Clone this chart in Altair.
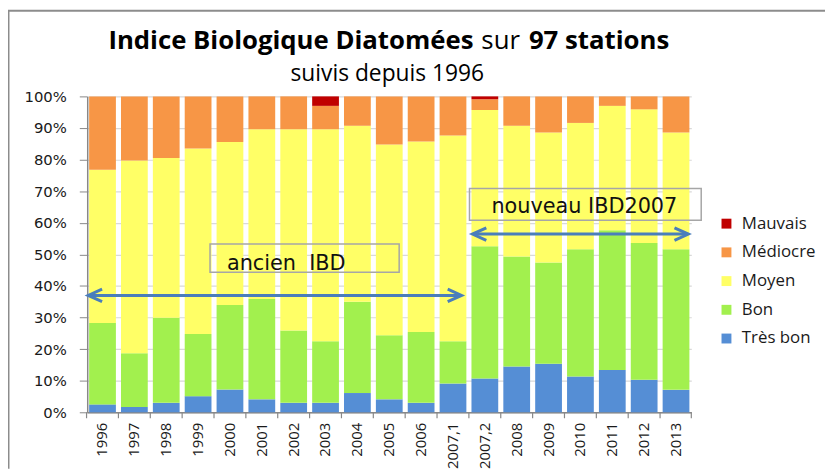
import altair as alt
import pandas as pd

years = ["1996", "1997", "1998", "1999", "2000", "2001", "2002", "2003", "2004",
         "2005", "2006", "2007,1", "2007,2", "2008", "2009", "2010", "2011", "2012", "2013"]
tres_bon = [2.5, 1.7, 3.0, 5.1, 7.2, 4.1, 3.0, 3.0, 6.1, 4.1, 3.0, 9.1, 10.7, 14.5, 15.4, 11.3, 13.4, 10.3, 7.1]
bon = [25.8, 17.0, 26.9, 19.7, 26.8, 31.8, 22.9, 19.5, 28.9, 20.3, 22.4, 13.4, 41.9, 34.8, 32.0, 40.3, 44.2, 43.3, 44.5]
moyen = [48.5, 61.0, 50.6, 58.7, 51.6, 53.7, 63.7, 67.1, 55.7, 60.4, 60.3, 65.1, 43.1, 41.4, 41.2, 40.0, 39.4, 42.3, 37.0]
mediocre = [23.2, 20.3, 19.5, 16.5, 14.4, 10.4, 10.4, 7.4, 9.3, 15.2, 14.3, 12.4, 3.4, 9.3, 11.4, 8.4, 3.0, 4.1, 11.4]
mauvais = [0, 0, 0, 0, 0, 0, 0, 3.0, 0, 0, 0, 0, 0.9, 0, 0, 0, 0, 0, 0]

categories = ["Mauvais", "Médiocre", "Moyen", "Bon", "Très bon"]
colors = ["#C00000", "#F79646", "#FFFF66", "#A2F04E", "#558ED5"]
y_ticks = [0, 0.1, 0.2, 0.3, 0.4, 0.5, 0.6, 0.7, 0.8, 0.9, 1.0]

series = {"Très bon": tres_bon, "Bon": bon, "Moyen": moyen, "Médiocre": mediocre, "Mauvais": mauvais}
rank = {"Très bon": 0, "Bon": 1, "Moyen": 2, "Médiocre": 3, "Mauvais": 4}
rows = []
for cat, vals in series.items():
    for yr, v in zip(years, vals):
        rows.append({"year": yr, "cat": cat, "value": v / 100.0, "rank": rank[cat]})
df = pd.DataFrame(rows)

W, H = 610, 319
AX = "#888888"
ARROW = "#4A7EBB"
xscale = alt.Scale(domain=years, paddingInner=0.16, paddingOuter=0.06)

bars = alt.Chart(df).mark_bar().encode(
    x=alt.X("year:N", scale=xscale, title=None,
            axis=alt.Axis(labelAngle=270, labelFont="Open Sans", labelFontSize=15,
                          labelColor="#1a1a1a", ticks=False, labelPadding=10,
                          domainColor=AX, domainWidth=1.5)),
    y=alt.Y("value:Q", stack="zero", scale=alt.Scale(domain=[0, 1], nice=False), title=None,
            axis=alt.Axis(values=y_ticks, format=".0%", labelFont="DejaVu Sans", labelFontSize=15,
                          labelColor="#1a1a1a", tickSize=8, tickColor=AX, domainColor=AX,
                          domainWidth=1.5, grid=True, gridColor="#d9d9d9", gridWidth=1.2,
                          labelPadding=13)),
    color=alt.Color("cat:N", scale=alt.Scale(domain=categories, range=colors),
                    legend=alt.Legend(title=None, orient="none", legendX=637, legendY=120,
                                      symbolType="square", symbolSize=100, symbolStrokeWidth=0,
                                      labelFont="Open Sans", labelFontSize=17, labelColor="#1a1a1a",
                                      rowPadding=11, labelOffset=7)),
    order=alt.Order("rank:Q"),
)

ticks = alt.Chart(df[df["cat"] == "Bon"]).mark_rule(xOffset=-2.6, color=AX, strokeWidth=1.2).encode(
    x=alt.X("year:N", scale=xscale, bandPosition=0),
    y=alt.value(H), y2=alt.value(H + 6),
)

one = pd.DataFrame({"k": [0]})
base = alt.Chart(one)

end_tick = base.mark_rule(color=AX, strokeWidth=1.2).encode(x=alt.value(W), y=alt.value(H), y2=alt.value(H + 6))

frame_top = base.mark_rule(color="#8c8c8c", strokeWidth=2).encode(
    x=alt.value(-80), x2=alt.value(746), y=alt.value(-86.5))
frame_left = base.mark_rule(color="#8c8c8c", strokeWidth=2).encode(
    x=alt.value(-79.5), y=alt.value(-87), y2=alt.value(376))

box1 = base.mark_rect(fillOpacity=0, stroke="#a6a6a6", strokeWidth=1.5).encode(
    x=alt.value(124), x2=alt.value(315), y=alt.value(149), y2=alt.value(177.5))
box2 = base.mark_rect(fillOpacity=0, stroke="#a6a6a6", strokeWidth=1.5).encode(
    x=alt.value(386), x2=alt.value(620), y=alt.value(93), y2=alt.value(125))

txt1 = base.mark_text(text="ancien\u00a0\u00a0IBD", font="DejaVu Sans", fontSize=21,
                      align="center", baseline="alphabetic", color="#111111").encode(
    x=alt.value(201), y=alt.value(175))
txt2 = base.mark_text(text="nouveau IBD2007", font="DejaVu Sans", fontSize=21,
                      align="center", baseline="alphabetic", color="#111111").encode(
    x=alt.value(502), y=alt.value(118))

arrow1 = base.mark_rule(color=ARROW, strokeWidth=3).encode(
    x=alt.value(2), x2=alt.value(376), y=alt.value(201))
arrow2 = base.mark_rule(color=ARROW, strokeWidth=3).encode(
    x=alt.value(390), x2=alt.value(606), y=alt.value(139))
LEFT = "M1,-0.9L-1,0L1,0.9"
RIGHT = "M-1,-0.9L1,0L-1,0.9"
head_kw = dict(filled=False, stroke=ARROW, strokeWidth=3, size=196, opacity=1)
h1 = base.mark_point(shape=LEFT, **head_kw).encode(x=alt.value(8), y=alt.value(201))
h2 = base.mark_point(shape=RIGHT, **head_kw).encode(x=alt.value(371), y=alt.value(201))
h3 = base.mark_point(shape=LEFT, **head_kw).encode(x=alt.value(396), y=alt.value(139))
h4 = base.mark_point(shape=RIGHT, **head_kw).encode(x=alt.value(600), y=alt.value(139))

t1 = base.mark_text(text="Indice Biologique Diatomées", font="Open Sans", fontSize=26, fontWeight="bold",
                    align="right", baseline="alphabetic", color="#000000").encode(
    x=alt.value(390), y=alt.value(-48))
t2 = base.mark_text(text="sur", font="Open Sans", fontSize=26,
                    align="left", baseline="alphabetic", color="#000000").encode(
    x=alt.value(398), y=alt.value(-48))
t3 = base.mark_text(text="97 stations", font="Open Sans", fontSize=26, fontWeight="bold",
                    align="left", baseline="alphabetic", color="#000000").encode(
    x=alt.value(446), y=alt.value(-48))
t4 = base.mark_text(text="suivis depuis 1996", font="Open Sans", fontSize=23,
                    align="center", baseline="alphabetic", color="#000000").encode(
    x=alt.value(303), y=alt.value(-16))

chart = alt.layer(
    bars, ticks, end_tick, frame_top, frame_left, box1, box2, txt1, txt2,
    arrow1, arrow2, h1, h2, h3, h4, t1, t2, t3, t4
).properties(
    width=W, height=H,
    autosize=alt.AutoSizeParams(type="none"),
    padding={"left": 80, "top": 87, "right": 135, "bottom": 55},
).configure_view(strokeWidth=0)

chart.save("out.html", embed_options={"renderer": "svg", "actions": False})
